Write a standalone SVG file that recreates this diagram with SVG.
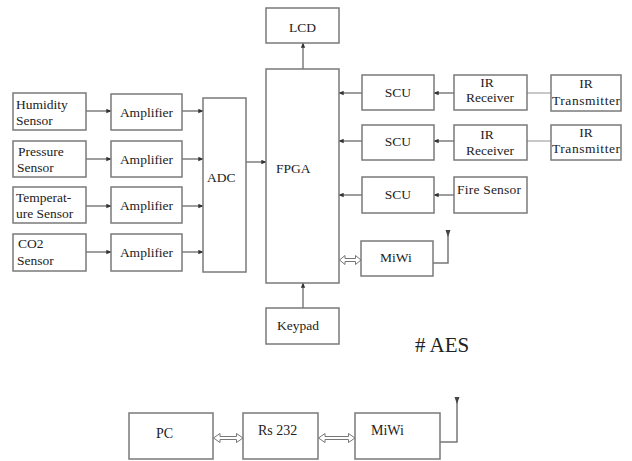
<svg xmlns="http://www.w3.org/2000/svg" width="632" height="461" viewBox="0 0 632 461">
<defs>
<style>
.box{fill:#fff;stroke:#7a7a7a;stroke-width:1.5}
.t{font-family:"Liberation Serif","Times New Roman",serif;font-size:13.5px;fill:#222}
.c{text-anchor:middle}
.ln{fill:none;stroke:#6a6a6a;stroke-width:1.3}
.lt{fill:none;stroke:#aaa;stroke-width:1.3}
.dbl{fill:#fff;stroke:#777;stroke-width:1}
.ant{fill:none;stroke:#777;stroke-width:1.5}
</style>
<marker id="ah" viewBox="0 0 8 8" refX="7.5" refY="4" markerWidth="5" markerHeight="5" orient="auto" markerUnits="userSpaceOnUse">
<path d="M0,0.5 L8,4 L0,7.5 Z" fill="#333"/>
</marker>
</defs>
<rect width="632" height="461" fill="#fff"/>

<g id="connectors">
<line class="ln" x1="86" y1="111" x2="111" y2="111" marker-end="url(#ah)"/>
<line class="ln" x1="86" y1="159" x2="111" y2="159" marker-end="url(#ah)"/>
<line class="ln" x1="86" y1="206" x2="111" y2="206" marker-end="url(#ah)"/>
<line class="ln" x1="86" y1="252" x2="111" y2="252" marker-end="url(#ah)"/>
<line class="ln" x1="182" y1="111" x2="203" y2="111" marker-end="url(#ah)"/>
<line class="ln" x1="182" y1="159" x2="203" y2="159" marker-end="url(#ah)"/>
<line class="ln" x1="182" y1="206" x2="203" y2="206" marker-end="url(#ah)"/>
<line class="ln" x1="182" y1="252" x2="203" y2="252" marker-end="url(#ah)"/>
<line class="ln" x1="246" y1="162" x2="266" y2="162" marker-end="url(#ah)"/>
<line class="ln" x1="303" y1="69" x2="303" y2="43" marker-end="url(#ah)"/>
<line class="ln" x1="303" y1="308" x2="303" y2="283" marker-end="url(#ah)"/>
<line class="ln" x1="362" y1="93" x2="339" y2="93" marker-end="url(#ah)"/>
<line class="ln" x1="362" y1="141" x2="339" y2="141" marker-end="url(#ah)"/>
<line class="ln" x1="362" y1="195" x2="339" y2="195" marker-end="url(#ah)"/>
<line class="ln" x1="454" y1="93" x2="434" y2="93" marker-end="url(#ah)"/>
<line class="ln" x1="454" y1="141" x2="434" y2="141" marker-end="url(#ah)"/>
<line class="ln" x1="454" y1="195" x2="434" y2="195" marker-end="url(#ah)"/>
<line class="lt" x1="527" y1="93" x2="551" y2="93"/>
<line class="lt" x1="527" y1="141" x2="551" y2="141"/>
<path class="dbl" d="M339.5,260 L345,255.5 L345,258.5 L355.5,258.5 L355.5,255.5 L361,260 L355.5,264.5 L355.5,261.5 L345,261.5 L345,264.5 Z"/>
<path class="dbl" d="M213.5,438 L220,433.5 L220,436.5 L236.5,436.5 L236.5,433.5 L243,438 L236.5,442.5 L236.5,439.5 L220,439.5 L220,442.5 Z"/>
<path class="dbl" d="M318.5,438 L325,433.5 L325,436.5 L348.5,436.5 L348.5,433.5 L355,438 L348.5,442.5 L348.5,439.5 L325,439.5 L325,442.5 Z"/>
<path class="ant" d="M433,263 L448,263 L448,232"/>
<path d="M445.5,230 L450.5,230 L448,237 Z" fill="#444"/>
<path class="ant" d="M440,442 L457,442 L457,399"/>
<path d="M454.5,397 L459.5,397 L457,404 Z" fill="#444"/>
</g>

<g id="humidity"><rect class="box" x="13" y="93" width="73" height="37"/><text class="t" x="16" y="109">Humidity</text><text class="t" x="16" y="125">Sensor</text></g>
<g id="pressure"><rect class="box" x="13" y="141" width="73" height="36"/><text class="t" x="18" y="156">Pressure</text><text class="t" x="17" y="172">Sensor</text></g>
<g id="temperature"><rect class="box" x="13" y="187" width="73" height="36"/><text class="t" x="16" y="202">Temperat-</text><text class="t" x="16" y="218">ure Sensor</text></g>
<g id="co2"><rect class="box" x="13" y="234" width="73" height="37"/><text class="t" x="18" y="248">CO2</text><text class="t" x="17" y="265">Sensor</text></g>

<g id="amp1"><rect class="box" x="111" y="94" width="71" height="36"/><text class="t c" x="146.5" y="117">Amplifier</text></g>
<g id="amp2"><rect class="box" x="111" y="141" width="71" height="36"/><text class="t c" x="146.5" y="164">Amplifier</text></g>
<g id="amp3"><rect class="box" x="111" y="187" width="71" height="36"/><text class="t c" x="146.5" y="210">Amplifier</text></g>
<g id="amp4"><rect class="box" x="111" y="234" width="71" height="37"/><text class="t c" x="146.5" y="257">Amplifier</text></g>

<g id="adc"><rect class="box" x="203" y="98" width="43" height="174"/><text class="t" x="207" y="182">ADC</text></g>
<g id="fpga"><rect class="box" x="266" y="69" width="73" height="214"/><text class="t" x="276" y="173">FPGA</text></g>
<g id="lcd"><rect class="box" x="266" y="8" width="73" height="35"/><text class="t c" x="302.5" y="32">LCD</text></g>
<g id="keypad"><rect class="box" x="266" y="308" width="73" height="36"/><text class="t" x="277" y="330">Keypad</text></g>

<g id="scu1"><rect class="box" x="362" y="75" width="72" height="35"/><text class="t c" x="398" y="97">SCU</text></g>
<g id="scu2"><rect class="box" x="362" y="125" width="72" height="35"/><text class="t c" x="398" y="146">SCU</text></g>
<g id="scu3"><rect class="box" x="362" y="177" width="72" height="36"/><text class="t c" x="398" y="199">SCU</text></g>

<g id="irrx1"><rect class="box" x="454" y="75" width="73" height="35"/><text class="t c" x="487" y="87">IR</text><text class="t c" x="490" y="102">Receiver</text></g>
<g id="irrx2"><rect class="box" x="454" y="125" width="73" height="35"/><text class="t c" x="487" y="139">IR</text><text class="t c" x="490" y="155">Receiver</text></g>
<g id="fire"><rect class="box" x="454" y="177" width="73" height="36"/><text class="t" x="457" y="194" textLength="64">Fire Sensor</text></g>

<g id="irtx1"><rect class="box" x="551" y="75" width="70" height="36"/><text class="t c" x="586" y="88">IR</text><text class="t" x="552" y="105" textLength="68">Transmitter</text></g>
<g id="irtx2"><rect class="box" x="551" y="125" width="70" height="35"/><text class="t c" x="586" y="137">IR</text><text class="t" x="552" y="153" textLength="68">Transmitter</text></g>

<g id="miwi1"><rect class="box" x="361" y="241" width="72" height="35"/><text class="t" x="380" y="262">MiWi</text></g>

<g id="aes"><text x="415" y="352" style="font-family:'Liberation Serif','Times New Roman',serif;font-size:21px;fill:#222"># AES</text></g>

<g id="pc"><rect class="box" x="129" y="413" width="84" height="46"/><text class="t" x="156" y="438" style="font-size:14px">PC</text></g>
<g id="rs232"><rect class="box" x="243" y="413" width="75" height="46"/><text class="t" x="258" y="435" style="font-size:14px">Rs 232</text></g>
<g id="miwi2"><rect class="box" x="355" y="413" width="85" height="46"/><text class="t" x="371" y="435" style="font-size:14px">MiWi</text></g>
</svg>
